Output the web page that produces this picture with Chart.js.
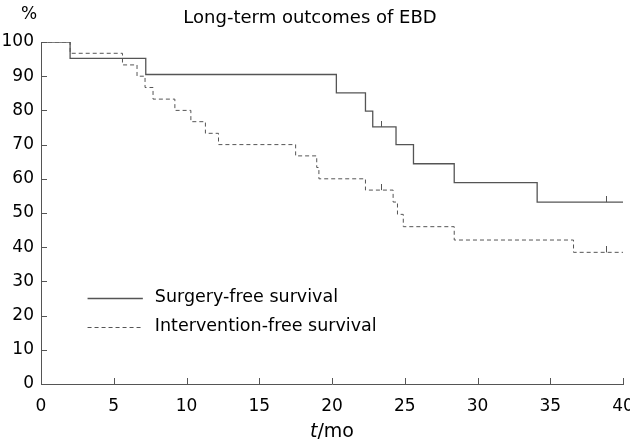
<!DOCTYPE html>
<html>
<head>
<meta charset="utf-8">
<script src="https://cdn.jsdelivr.net/npm/chart.js@4/dist/chart.umd.min.js"></script>
<style>
  body { margin: 0; background: #fff; }
</style>
</head>
<body>
<canvas id="kmChart" width="630" height="445"></canvas>
<script>
// Kaplan-Meier estimates (months, %)
const surgeryTime = [0, 2.0, 7.2, 20.3, 22.3, 22.8, 24.4, 25.6, 28.4, 34.1, 40];
const surgeryFree = [100, 95.2, 90.5, 85.1, 79.8, 75.2, 70.0, 64.4, 58.9, 53.2, 53.2];
const surgeryCensorTime = [23.4, 38.9];
const surgeryCensorValue = [75.2, 53.2];

const interventionTime = [0, 2.0, 5.6, 6.6, 7.15, 7.7, 9.2, 10.3, 11.3, 12.2, 17.5, 18.95, 19.1, 22.3, 24.2, 24.5, 24.9, 28.4, 36.6, 40];
const interventionFree = [100, 96.7, 93.3, 90.0, 86.7, 83.3, 80.0, 76.7, 73.3, 70.0, 66.7, 63.3, 60.0, 56.7, 53.2, 49.6, 46.0, 42.1, 38.5, 38.5];
const interventionCensorTime = [23.4, 38.9];
const interventionCensorValue = [56.7, 38.5];

const xTicks = [0, 5, 10, 15, 20, 25, 30, 35, 40];
const yTicks = [0, 10, 20, 30, 40, 50, 60, 70, 80, 90, 100];
const seriesNames = ["Surgery-free survival", "Intervention-free survival"];

const lineCol = "#555";
const fontFam = "'DejaVu Sans', sans-serif";

const toPts = (xs, ys) => xs.map((x, i) => ({ x: x, y: ys[i] }));

// censor mark: short vertical tick sitting on top of the curve
function censorMark() {
    const c = document.createElement("canvas");
    c.width = 1;
    c.height = 12;
    const g = c.getContext("2d");
    g.fillStyle = lineCol;
    g.fillRect(0, 0, 1, 6);
    return c;
}
const tickImg = censorMark();

// draws inward tick marks, titles and the in-plot legend
const decorations = {
    id: "decorations",
    afterDraw(chart) {
        const ctx = chart.ctx;
        const xs = chart.scales.x, ys = chart.scales.y;
        const area = chart.chartArea;
        ctx.save();
        ctx.strokeStyle = lineCol;
        ctx.lineWidth = 1;
        ctx.beginPath();
        xTicks.forEach(t => {
            const px = Math.round(xs.getPixelForValue(t)) + 0.5;
            ctx.moveTo(px, area.bottom);
            ctx.lineTo(px, area.bottom - 6);
        });
        yTicks.forEach(t => {
            const py = Math.round(ys.getPixelForValue(t)) + 0.5;
            ctx.moveTo(area.left, py);
            ctx.lineTo(area.left + 6, py);
        });
        ctx.stroke();

        ctx.fillStyle = "#000";
        ctx.textBaseline = "middle";
        ctx.textAlign = "center";
        ctx.font = "18px " + fontFam;
        ctx.fillText("Long-term outcomes of EBD", 310, 18);
        ctx.font = "17px " + fontFam;
        ctx.fillText("%", 29, 15);

        // x title: italic t + /mo
        ctx.textAlign = "left";
        ctx.font = "italic 19px " + fontFam;
        const tW = ctx.measureText("t").width;
        ctx.font = "19px " + fontFam;
        const restW = ctx.measureText("/mo").width;
        const startX = 332 - (tW + restW) / 2;
        ctx.font = "italic 19px " + fontFam;
        ctx.fillText("t", startX, 432);
        ctx.font = "19px " + fontFam;
        ctx.fillText("/mo", startX + tW, 432);

        // legend
        const lx0 = xs.getPixelForValue(3.2), lx1 = xs.getPixelForValue(7.0);
        const rows = [ys.getPixelForValue(25.2), ys.getPixelForValue(16.7)];
        rows.forEach((py, i) => {
            const y = Math.round(py) + 0.5;
            ctx.beginPath();
            ctx.setLineDash(i === 0 ? [] : [4, 3]);
            ctx.lineWidth = i === 0 ? 1.3 : 1;
            ctx.moveTo(lx0, y);
            ctx.lineTo(lx1, y);
            ctx.stroke();
            ctx.setLineDash([]);
            ctx.font = "17.5px " + fontFam;
            ctx.fillText(seriesNames[i], lx1 + 12, py);
        });
        ctx.restore();
    }
};

new Chart(document.getElementById("kmChart"), {
    type: "line",
    data: {
        datasets: [{
            label: seriesNames[0],
            data: toPts(surgeryTime, surgeryFree),
            stepped: true,
            borderColor: lineCol,
            borderWidth: 1.3,
            pointRadius: 0
        }, {
            label: seriesNames[1],
            data: toPts(interventionTime, interventionFree),
            stepped: true,
            borderColor: lineCol,
            borderWidth: 1,
            borderDash: [4, 3],
            pointRadius: 0
        }, {
            label: "censored",
            data: toPts(surgeryCensorTime, surgeryCensorValue)
                .concat(toPts(interventionCensorTime, interventionCensorValue)),
            showLine: false,
            pointStyle: tickImg,
            pointRadius: 6
        }]
    },
    options: {
        responsive: false,
        devicePixelRatio: 1,
        animation: false,
        layout: { padding: { top: 42, right: 7, left: 0, bottom: 0 } },
        plugins: {
            legend: { display: false },
            tooltip: { enabled: false },
            title: { display: false }
        },
        scales: {
            x: {
                type: "linear",
                min: 0,
                max: 40,
                afterFit: s => { s.height = 61; s.paddingRight = 0; s.paddingLeft = 0; },
                afterBuildTicks: s => { s.ticks = xTicks.map(v => ({ value: v })); },
                grid: { display: false, drawTicks: false },
                border: { display: true, color: lineCol, width: 1 },
                ticks: { color: "#000", font: { family: fontFam, size: 17 }, padding: 12, maxRotation: 0 }
            },
            y: {
                min: 0,
                max: 100,
                afterFit: s => { s.width = 41; s.paddingTop = 0; s.paddingBottom = 0; },
                afterBuildTicks: s => { s.ticks = yTicks.map(v => ({ value: v })); },
                grid: { display: false, drawTicks: false },
                border: { display: true, color: lineCol, width: 1 },
                ticks: { color: "#000", font: { family: fontFam, size: 17 }, padding: 7 }
            }
        }
    },
    plugins: [decorations]
});
</script>
</body>
</html>
